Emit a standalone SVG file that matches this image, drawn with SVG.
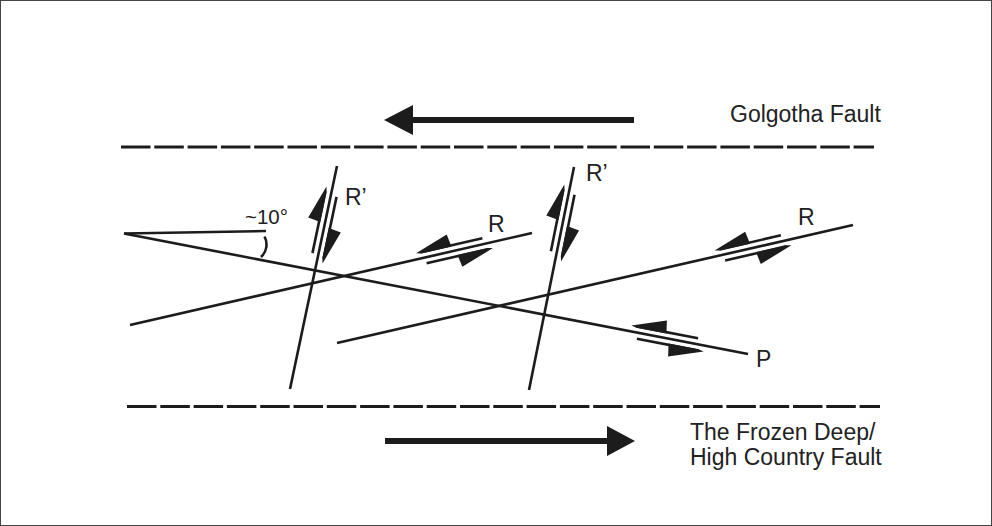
<svg xmlns="http://www.w3.org/2000/svg" width="992" height="526" viewBox="0 0 992 526">
<style>
.ln{stroke:#1c1c1c;stroke-width:2.6;fill:none;stroke-linecap:butt}
.dash{stroke:#1c1c1c;stroke-width:3;fill:none;stroke-dasharray:29.5 3.8}
.bar{stroke:#1c1c1c;stroke-width:6;fill:none}
.fill{fill:#1c1c1c;stroke:none}
.lbl{font-family:"Liberation Sans",Arial,Helvetica,sans-serif;font-size:23px;fill:#222}
.small{font-size:20.5px}
</style>
<defs>
<g id="shear">
<line class="ln" x1="-33" y1="-6" x2="30" y2="-6" stroke-width="2.5"/>
<path class="fill" d="M-38,-6 L-4,-17.5 L-2,-4.8 L-33,-4.8 Z"/>
<line class="ln" x1="-30" y1="6" x2="33" y2="6" stroke-width="2.5"/>
<path class="fill" d="M38,6 L4,17.5 L2,4.8 L33,4.8 Z"/>
</g>
</defs>
<rect x="0.5" y="0.5" width="991" height="525" fill="#fff" stroke="#444" stroke-width="1"/>
<g id="golgotha-fault">
<line class="dash" x1="121" y1="147" x2="874" y2="147"/>
<line class="bar" x1="410" y1="120" x2="634" y2="120"/>
<path class="fill" d="M384,120 L413,105 L413,135 Z"/>
<text class="lbl" x="730" y="122">Golgotha Fault</text>
</g>
<g id="frozen-deep-fault">
<line class="dash" x1="127" y1="406.5" x2="880" y2="406.5"/>
<line class="bar" x1="385" y1="441" x2="610" y2="441"/>
<path class="fill" d="M635,441 L607,426 L607,456 Z"/>
<text class="lbl" x="690" y="439.5">The Frozen Deep/</text>
<text class="lbl" x="690" y="465">High Country Fault</text>
</g>
<g id="connectors">
<g id="p-fracture">
<line class="ln" x1="124" y1="233.5" x2="748" y2="354"/>
<use href="#shear" transform="translate(667.5,338.5) rotate(10.93)"/>
<text class="lbl" x="756" y="366.5">P</text>
</g>
<g id="reference-line">
<line class="ln" x1="124" y1="233.5" x2="266" y2="231"/>
<path class="ln" d="M264.5,236.5 A17,17 0 0 1 261,257"/>
<text class="lbl small" x="245" y="224">~10°</text>
</g>
<g id="r-shear-1">
<line class="ln" x1="130" y1="325" x2="532" y2="233"/>
<use href="#shear" transform="translate(454.5,250.7) rotate(-12.9)"/>
<text class="lbl" x="488" y="232">R</text>
</g>
<g id="r-shear-2">
<line class="ln" x1="337" y1="343" x2="853" y2="225"/>
<use href="#shear" transform="translate(753,247.9) rotate(-12.9)"/>
<text class="lbl" x="798" y="225">R</text>
</g>
<g id="r-prime-1">
<line class="ln" x1="337" y1="166" x2="290" y2="389"/>
<use href="#shear" transform="translate(324.5,225) rotate(101.9) scale(1,-1)"/>
<text class="lbl" x="345" y="205">R’</text>
</g>
<g id="r-prime-2">
<line class="ln" x1="574" y1="167" x2="529" y2="390"/>
<use href="#shear" transform="translate(562.7,223) rotate(101.4) scale(1,-1)"/>
<text class="lbl" x="586" y="181">R’</text>
</g>
</g>
</svg>
